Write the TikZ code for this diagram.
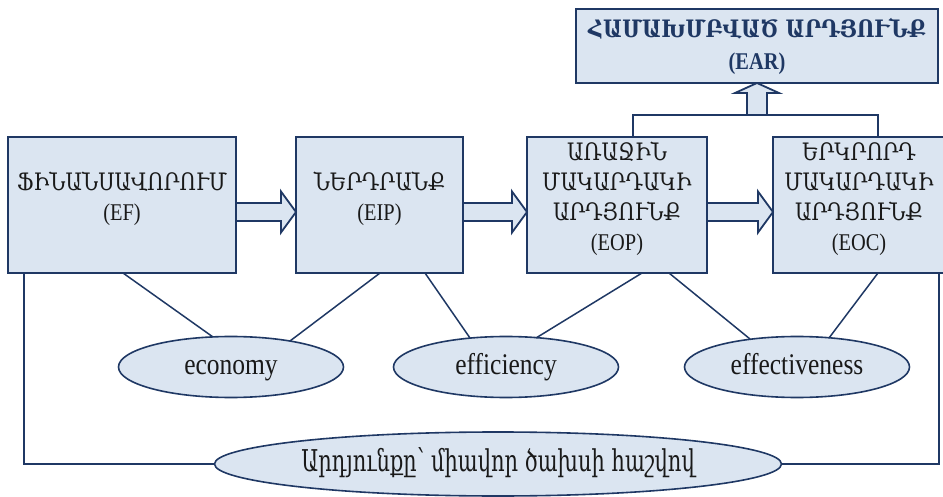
\documentclass[tikz,border=0pt]{standalone}
\usepackage{fontspec}
\setmainfont{Liberation Serif}[FakeStretch=0.85]
\newfontfamily\armfont{DejaVu Serif}[FakeStretch=0.85]
\newfontfamily\armnarrow{DejaVu Serif}[FakeStretch=0.7]
\usetikzlibrary{calc,shapes.geometric}
\definecolor{navy}{RGB}{31,56,100}
\definecolor{boxfill}{RGB}{219,229,241}
\definecolor{txtcol}{RGB}{25,25,25}
\begin{document}
\begin{tikzpicture}[x=1pt,y=-1pt,
  box/.style={draw=navy,fill=boxfill,line width=1.8pt,inner sep=0pt,outer sep=0pt},
  btxt/.style={align=center,text=txtcol,font=\fontsize{24}{30}\selectfont,inner sep=0pt},
  eartxt/.style={align=center,text=navy,font=\bfseries\fontsize{24}{32}\selectfont,inner sep=0pt},
  ell/.style={ellipse,draw=navy,fill=boxfill,line width=1.6pt,inner sep=0pt,outer sep=0pt,
              text=txtcol,font=\fontsize{30}{34}\selectfont,text height=20pt,text depth=6pt},
  conn/.style={draw=navy,line width=1.5pt},
  barrow/.style={draw=navy,fill=boxfill,line width=1.8pt,line join=miter}]
\useasboundingbox (0,0) rectangle (943,497);

% boxes
\node[box,minimum width=228,minimum height=136] (ef)  at (122,205) {};
\node[box,minimum width=167,minimum height=136] (eip) at (379.5,205) {};
\node[box,minimum width=180,minimum height=136] (eop) at (617,205) {};
\node[box,minimum width=172,minimum height=136] (eoc) at (859,205) {};
\node[box,minimum width=362,minimum height=74]  (ear) at (757,46) {};

\node[btxt] (eft)  at (122,199) {{\armfont ՖԻՆԱՆՍԱՎՈՐՈՒՄ}\\(EF)};
\node[btxt] (eipt) at (379.5,199) {{\armfont ՆԵՐԴՐԱՆՔ}\\(EIP)};
\node[btxt] (eopt) at (617,199) {{\armfont ԱՌԱՋԻՆ}\\{\armfont ՄԱԿԱՐԴԱԿԻ}\\{\armfont ԱՐԴՅՈՒՆՔ}\\(EOP)};
\node[btxt] (eoct) at (859,199) {{\armfont ԵՐԿՐՈՐԴ}\\{\armfont ՄԱԿԱՐԴԱԿԻ}\\{\armfont ԱՐԴՅՈՒՆՔ}\\(EOC)};
\node[eartxt] (eart) at (757,46) {{\armfont ՀԱՄԱԽՄԲՎԱԾ ԱՐԴՅՈՒՆՔ}\\(EAR)};

% ellipses
\node[ell,minimum width=225,minimum height=61] (eco)  at (231,367) {economy};
\node[ell,minimum width=225,minimum height=61] (effi) at (506,367) {efficiency};
\node[ell,minimum width=225,minimum height=61] (effe) at (797,367) {effectiveness};
\node[ell,minimum width=567,minimum height=64,inner sep=-20pt] (bot) at (498,464)
  {{\armnarrow Արդյունքը՝ միավոր ծախսի հաշվով}};

% block arrows
\newcommand\harrow[2]{%
  \draw[barrow] ($(#1.east)+(0,-2)$) -- ($(#2.west)+(-15,-2)$) -- ($(#2.west)+(-15,-13.5)$)
    -- ($(#2.west)+(0,7)$) -- ($(#2.west)+(-15,27.5)$) -- ($(#2.west)+(-15,16)$)
    -- ($(#1.east)+(0,16)$) -- cycle;}
\harrow{ef}{eip}
\harrow{eip}{eop}
\harrow{eop}{eoc}

% connector to EAR
\coordinate (hl) at (633,115);
\coordinate (hr) at (878,115);
\draw[conn] ($(eop.north)+(16,0)$) -- (hl) -- (hr) -- ($(eoc.north)+(19,0)$);
\draw[barrow] ($(ear.south)+(-10,32)$) -- ($(ear.south)+(-10,10)$) -- ($(ear.south)+(-22,10)$)
  -- (ear.south) -- ($(ear.south)+(22,10)$) -- ($(ear.south)+(10,10)$) -- ($(ear.south)+(10,32)$) -- cycle;

% lines to ellipses
\draw[conn] ($(ef.south)+(1,0)$) -- ($(eco.center)+(-18,-30)$);
\draw[conn] ($(eip.south)+(0.5,0)$) -- ($(eco.center)+(59,-26)$);
\draw[conn] ($(eip.south)+(45.5,0)$) -- ($(effi.center)+(-36,-29)$);
\draw[conn] ($(eop.south)+(25,0)$) -- ($(effi.center)+(30,-29)$);
\draw[conn] ($(eop.south)+(52,0)$) -- ($(effe.center)+(-47,-28)$);
\draw[conn] ($(eoc.south)+(19,0)$) -- ($(effe.center)+(32,-29)$);

% outer loop
\draw[conn] ($(ef.south west)+(16,0)$) |- (bot.west);
\draw[conn] (bot.east) -| ($(eoc.south east)+(-6,0)$);
\end{tikzpicture}
\end{document}
